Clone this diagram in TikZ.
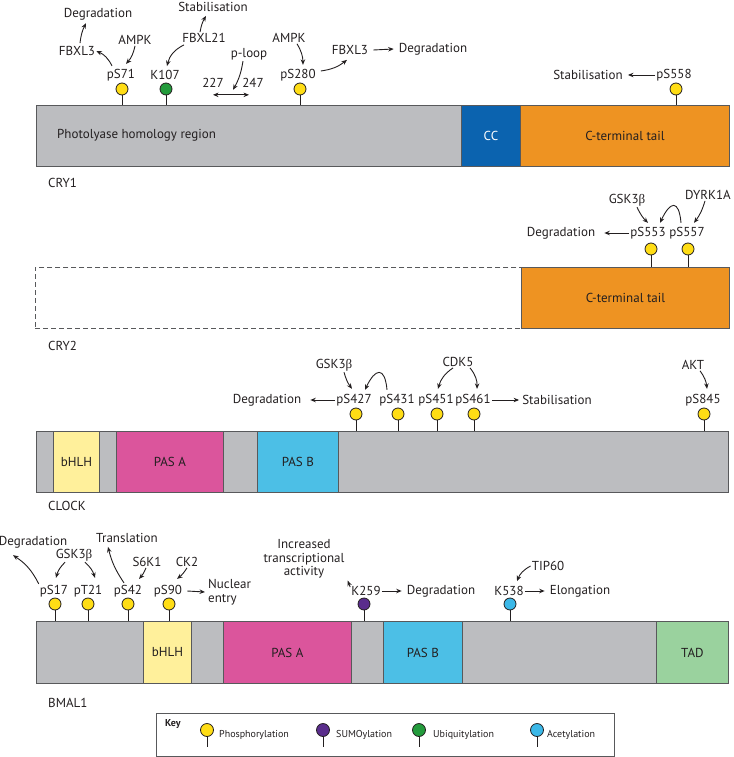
\documentclass[tikz,border=0pt]{standalone}
\usepackage{fontspec}
\setmainfont{PT Sans}
\newfontfamily\grkfont{Liberation Serif}
\usetikzlibrary{arrows.meta}
\definecolor{segray}{HTML}{BCBDC0}
\definecolor{ccblue}{HTML}{0B63AF}
\definecolor{ctorange}{HTML}{EE9322}
\definecolor{bhlhy}{HTML}{FFF09B}
\definecolor{pasa}{HTML}{DB559C}
\definecolor{pasb}{HTML}{4CBFE6}
\definecolor{tadg}{HTML}{9AD29E}
\definecolor{phos}{HTML}{FFDD15}
\definecolor{ubiq}{HTML}{239B3C}
\definecolor{sumo}{HTML}{5A2D8C}
\definecolor{acet}{HTML}{3BB8E8}
\definecolor{edge}{HTML}{58595B}
\definecolor{ink}{HTML}{231F20}
\newcommand\labfont{\fontsize{13}{13.5}\selectfont}
\newcommand\keyfont{\fontsize{10}{12}\selectfont}
\newcommand\gbeta{{\grkfont β}}
\begin{document}
\begin{tikzpicture}[x=1pt,y=1pt,
  lab/.style={font=\labfont, text=ink, inner sep=1pt},
  seg/.style={draw=edge, line width=0.9pt, minimum height=61pt, inner sep=0pt, anchor=north west, font=\labfont, text=ink},
  lolly/.style={circle, draw=ink, line width=0.8pt, minimum size=12pt, inner sep=0pt},
  stem/.style={draw=ink, line width=0.9pt},
  arr/.style={draw=ink, line width=0.9pt, -{Stealth[length=5.5pt,width=4.5pt]}},
  darr/.style={draw=ink, line width=0.9pt, {Stealth[length=5.5pt,width=4.5pt]}-{Stealth[length=5.5pt,width=4.5pt]}},
  pname/.style={font=\labfont, text=ink, anchor=west, inner sep=0pt},
  keytxt/.style={font=\keyfont, text=ink, anchor=west, inner sep=0pt},
]
\useasboundingbox (0,0) rectangle (733,-757);

% ---------------- CRY1 ----------------
\node[seg, fill=segray, minimum width=425pt] (cry1a) at (36,-105) {};
\node[seg, fill=ccblue, minimum width=59pt, text=white] (cry1cc) at (461,-105) {CC};
\node[seg, fill=ctorange, minimum width=209pt] (cry1ct) at (520,-105) {C-terminal tail};
\node[lab, anchor=west] (phr) at (56,-135) {Photolyase homology region};
\node[pname] (cry1) at (48,-183) {CRY1};

\node[lolly, fill=phos] (c71) at (122,-89) {};
\node[lolly, fill=ubiq] (c107) at (166,-89) {};
\node[lolly, fill=phos] (c280) at (300,-89) {};
\node[lolly, fill=phos] (c558) at (676,-89) {};
\foreach \c in {c71,c107,c280,c558} \draw[stem] (\c.south) -- (\c.south |- cry1a.north);

\node[lab] (l71) at (121,-75) {pS71};
\node[lab] (l107) at (165,-75) {K107};
\node[lab] (l280) at (298,-75) {pS280};
\node[lab] (l558) at (674,-75) {pS558};
\node[lab] (stab2) at (588,-75) {Stabilisation};
\node[lab] (deg1) at (98,-14) {Degradation};
\node[lab] (fbxl3a) at (77,-51) {FBXL3};
\node[lab] (ampk1) at (135,-40) {AMPK};
\node[lab] (stab1) at (213,-7) {Stabilisation};
\node[lab] (fbxl21) at (204,-38) {FBXL21};
\node[lab] (ploop) at (249,-54) {p-loop};
\node[lab] (n227) at (213,-83) {227};
\node[lab] (n247) at (253,-83) {247};
\node[lab] (ampk2) at (289,-38) {AMPK};
\node[lab] (fbxl3b) at (350,-50) {FBXL3};
\node[lab] (deg2) at (433,-49) {Degradation};

\draw[arr] ([xshift=-9pt,yshift=2pt]l71.north) to[bend right=20] (fbxl3a.east);
\draw[arr] ([xshift=3pt,yshift=2pt]fbxl3a.north) to[bend left=10] ([xshift=-12pt,yshift=-2pt]deg1.south);
\draw[arr] (ampk1.south) to[bend left=15] ([xshift=5pt,yshift=4pt]l71.north);
\draw[arr] ([xshift=-20pt,yshift=-1pt]fbxl21.south) to[bend right=25] ([xshift=2pt,yshift=3pt]l107.north);
\draw[arr] ([xshift=-4pt]fbxl21.north) to[bend left=10] ([xshift=-7pt,yshift=-3pt]stab1.south);
\draw[darr] ([yshift=-6pt]n227.south) -- ([xshift=-4pt,yshift=-6pt]n247.south);
\draw[arr] ([xshift=-6pt]ploop.south) to[bend left=10] ([xshift=20pt,yshift=-1pt]n227.south);
\draw[arr] ([xshift=8pt]ampk2.south) to[bend left=15] ([xshift=5pt,yshift=3pt]l280.north);
\draw[arr] ([xshift=4pt,yshift=4pt]l280.east) to[bend right=15] ([xshift=-3pt,yshift=-4pt]fbxl3b.south);
\draw[arr] ([xshift=4pt]fbxl3b.east) -- ([xshift=-4pt]deg2.west);
\draw[arr] (l558.west) -- ([xshift=4pt]stab2.east);

% ---------------- CRY2 ----------------
\node[draw=edge, dash pattern=on 5pt off 3pt, line width=0.8pt, minimum width=486pt, minimum height=61pt, anchor=north west, inner sep=0pt] (cry2a) at (35,-267) {};
\node[seg, fill=ctorange, minimum width=208pt] (cry2ct) at (521,-267) {C-terminal tail};
\node[pname] (cry2) at (48,-346) {CRY2};

\node[lolly, fill=phos] (c553) at (651,-249) {};
\node[lolly, fill=phos] (c557) at (688,-249) {};
\foreach \c in {c553,c557} \draw[stem] (\c.south) -- (\c.south |- cry2ct.north);

\node[lab] (l553) at (648,-233) {pS553};
\node[lab] (l557) at (687,-233) {pS557};
\node[lab] (deg3) at (561,-233) {Degradation};
\node[lab] (gsk1) at (627,-200) {GSK3\gbeta};
\node[lab] (dyrk) at (708,-195) {DYRK1A};

\draw[arr] ([xshift=10pt]gsk1.south) to[bend right=10] ([yshift=3pt]l553.north);
\draw[arr] ([xshift=-3pt]dyrk.south) to[bend left=10] ([xshift=7pt,yshift=3pt]l557.north);
\draw[arr] ([xshift=-6pt,yshift=3pt]l557.north) .. controls +(95:24) and +(65:24) .. ([xshift=12pt,yshift=3pt]l553.north);
\draw[arr] (l553.west) -- ([xshift=8pt]deg3.east);

% ---------------- CLOCK ----------------
\node[seg, fill=segray, minimum width=692pt] (clk) at (36,-431) {};
\node[seg, fill=bhlhy, minimum width=46pt] (clkb) at (53,-431) {bHLH};
\node[seg, fill=pasa, minimum width=107pt] (clka) at (116,-431) {PAS A};
\node[seg, fill=pasb, minimum width=81pt] (clkpb) at (257,-431) {PAS B};
\node[pname] (clock) at (48,-506) {CLOCK};

\node[lolly, fill=phos] (c427) at (356,-414) {};
\node[lolly, fill=phos] (c431) at (398,-414) {};
\node[lolly, fill=phos] (c451) at (437,-414) {};
\node[lolly, fill=phos] (c461) at (474,-414) {};
\node[lolly, fill=phos] (c845) at (704,-414) {};
\foreach \c in {c427,c431,c451,c461,c845} \draw[stem] (\c.south) -- (\c.south |- clk.north);

\node[lab] (l427) at (354,-400) {pS427};
\node[lab] (l431) at (397,-400) {pS431};
\node[lab] (l451) at (436,-400) {pS451};
\node[lab] (l461) at (473,-400) {pS461};
\node[lab] (l845) at (703,-400) {pS845};
\node[lab] (deg4) at (267,-400) {Degradation};
\node[lab] (stab3) at (557,-400) {Stabilisation};
\node[lab] (gsk2) at (334,-365) {GSK3\gbeta};
\node[lab] (cdk5) at (458,-362) {CDK5};
\node[lab] (akt) at (693,-365) {AKT};

\draw[arr] ([xshift=10pt]gsk2.south) to[bend right=10] ([xshift=-2pt,yshift=4pt]l427.north);
\draw[arr] ([xshift=-10pt,yshift=3pt]l431.north) .. controls +(95:24) and +(65:24) .. ([xshift=11pt,yshift=3pt]l427.north);
\draw[arr] ([xshift=-5pt]cdk5.south) to[bend right=20] ([xshift=2pt,yshift=4pt]l451.north);
\draw[arr] ([xshift=12pt]cdk5.south) to[bend left=20] ([xshift=4pt,yshift=4pt]l461.north);
\draw[arr] (l461.east) -- ([xshift=-2pt]stab3.west);
\draw[arr] (l427.west) -- ([xshift=8pt]deg4.east);
\draw[arr] ([xshift=7pt]akt.south) to[bend left=15] ([xshift=4pt,yshift=4pt]l845.north);

% ---------------- BMAL1 ----------------
\node[seg, fill=segray, minimum width=692pt, minimum height=62pt] (bm) at (36,-621) {};
\node[seg, fill=bhlhy, minimum width=48pt, minimum height=62pt] (bmb) at (143,-621) {bHLH};
\node[seg, fill=pasa, minimum width=128pt, minimum height=62pt] (bma) at (223,-621) {PAS A};
\node[seg, fill=pasb, minimum width=79pt, minimum height=62pt] (bmpb) at (383,-621) {PAS B};
\node[seg, fill=tadg, minimum width=72pt, minimum height=62pt] (bmt) at (656,-621) {TAD};
\node[pname] (bmal1) at (48,-703) {BMAL1};

\node[lolly, fill=phos] (c17) at (55,-604) {};
\node[lolly, fill=phos] (c21) at (88,-604) {};
\node[lolly, fill=phos] (c42) at (128,-604) {};
\node[lolly, fill=phos] (c90) at (169,-604) {};
\node[lolly, fill=sumo] (c259) at (364,-604) {};
\node[lolly, fill=acet] (c538) at (510,-604) {};
\foreach \c in {c17,c21,c42,c90,c259,c538} \draw[stem] (\c.south) -- (\c.south |- bm.north);

\node[lab] (l17) at (54,-591) {pS17};
\node[lab] (l21) at (88,-591) {pT21};
\node[lab] (l42) at (128,-591) {pS42};
\node[lab] (l90) at (168,-591) {pS90};
\node[lab] (l259) at (366,-591) {K259};
\node[lab] (l538) at (509,-591) {K538};
\node[lab] (deg5) at (33,-542) {Degradation};
\node[lab] (gsk3) at (74,-555) {GSK3\gbeta};
\node[lab] (trans) at (127,-538) {Translation};
\node[lab] (s6k1) at (147,-562) {S6K1};
\node[lab] (ck2) at (187,-562) {CK2};
\node[lab, anchor=west, align=left] (nuc) at (207,-592) {Nuclear\\entry};
\node[lab, align=center] (incr) at (304,-559) {Increased\\transcriptional\\activity};
\node[lab] (deg6) at (441,-591) {Degradation};
\node[lab] (elong) at (580,-591) {Elongation};
\node[lab] (tip60) at (548,-566) {TIP60};

\draw[arr] (l17.north west) to[bend right=15] ([xshift=-20pt,yshift=-6pt]deg5.south);
\draw[arr] ([xshift=-9pt]gsk3.south) to[bend right=15] ([xshift=2pt,yshift=6pt]l17.north);
\draw[arr] ([xshift=11pt]gsk3.south) to[bend left=15] ([xshift=7pt,yshift=6pt]l21.north);
\draw[arr] ([xshift=-4pt,yshift=1pt]l42.north) to[bend left=10] ([xshift=-19pt,yshift=-3pt]trans.south);
\draw[arr] ([xshift=-1pt]s6k1.south) to[bend left=10] ([xshift=11pt,yshift=5pt]l42.north);
\draw[arr] (ck2.south) to[bend left=10] ([xshift=9pt,yshift=5pt]l90.north);
\draw[arr] ([xshift=4pt]l90.east) -- ([xshift=-2pt]nuc.west);
\draw[arr] ([yshift=-2pt]l259.north west) -- ([xshift=2pt,yshift=-1pt]incr.south east);
\draw[arr] (l259.east) -- ([xshift=-4pt]deg6.west);
\draw[arr] (l538.east) -- ([xshift=-4pt]elong.west);
\draw[arr] (tip60.west) to[bend right=20] ([xshift=8pt,yshift=4pt]l538.north);

% ---------------- Key ----------------
\node[draw=edge, line width=0.9pt, minimum width=458pt, minimum height=43pt, anchor=north west, inner sep=0pt] (key) at (156,-713) {};
\node[keytxt, font=\keyfont\bfseries] (keyt) at (165,-724) {Key};
\node[lolly, minimum size=13pt, fill=phos] (k1) at (207,-730) {};
\node[lolly, minimum size=13pt, fill=sumo] (k2) at (323,-730) {};
\node[lolly, minimum size=13pt, fill=ubiq] (k3) at (419,-730) {};
\node[lolly, minimum size=13pt, fill=acet] (k4) at (537,-730) {};
\foreach \c in {k1,k2,k3,k4} \draw[stem] (\c.south) -- ([yshift=-10pt]\c.south);
\node[keytxt] (kt1) at (219,-735) {Phosphorylation};
\node[keytxt] (kt2) at (336,-735) {SUMOylation};
\node[keytxt] (kt3) at (433,-735) {Ubiquitylation};
\node[keytxt] (kt4) at (547,-735) {Acetylation};
\end{tikzpicture}
\end{document}
